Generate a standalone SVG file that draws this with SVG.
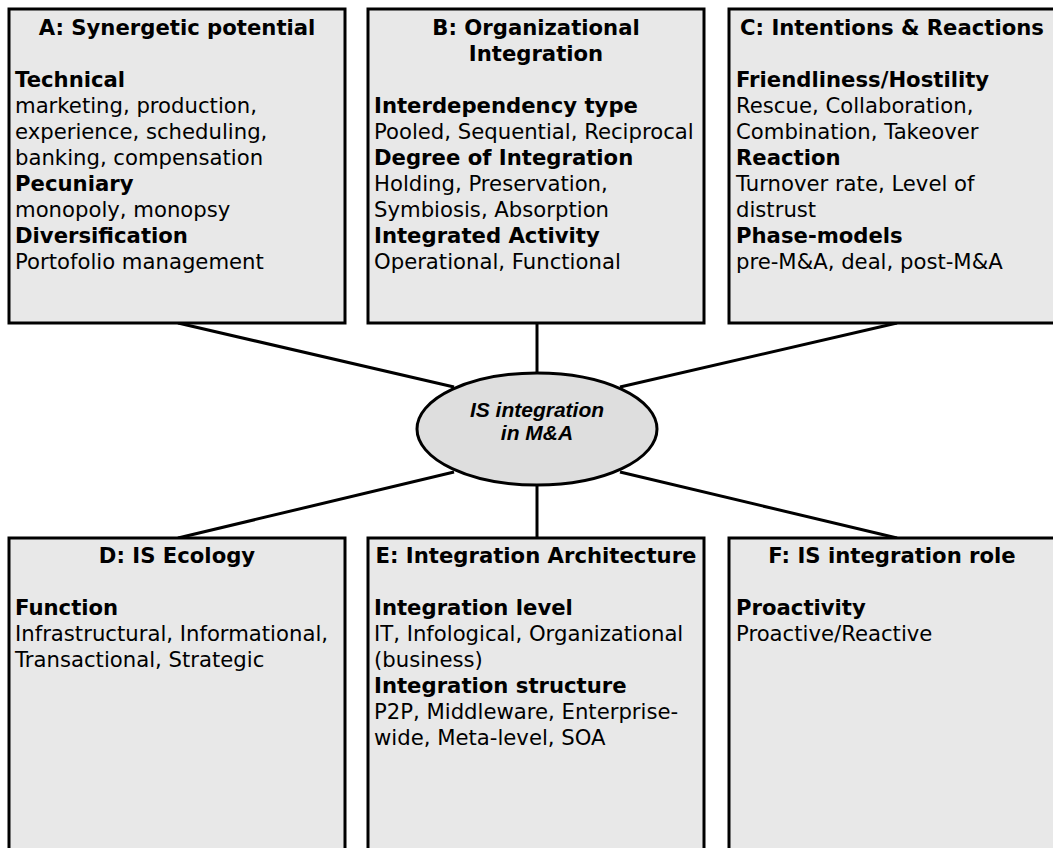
<svg xmlns="http://www.w3.org/2000/svg" width="1053" height="848" viewBox="0 0 1053 848">
<style>
.box{fill:#e8e8e8;stroke:#000;stroke-width:3}
.t{font-family:"DejaVu Sans",Verdana,sans-serif;font-size:21.2px;fill:#000}
.b{font-weight:bold}
.c{text-anchor:middle}
.conn line{stroke:#000;stroke-width:3}
.el{fill:#dedede;stroke:#000;stroke-width:3}
.et{font-family:"Liberation Sans",Arial,sans-serif;font-size:21px;font-weight:bold;font-style:italic;text-anchor:middle}
</style>
<rect width="1053" height="848" fill="#fff"/>
<g id="connectors" class="conn">
<line x1="178" y1="323" x2="454" y2="387"/>
<line x1="537" y1="323" x2="537" y2="374"/>
<line x1="897" y1="323" x2="620" y2="387"/>
<line x1="178" y1="538" x2="454" y2="472"/>
<line x1="537" y1="538" x2="537" y2="484"/>
<line x1="897" y1="538" x2="620" y2="472"/>
</g>
<g id="nodeA">
<rect class="box" x="9" y="9" width="336" height="314"/>
<text class="t b c" x="177" y="35">A: Synergetic potential</text>
<text class="t b" x="15" y="87">Technical</text>
<text class="t" x="15" y="113">marketing, production,</text>
<text class="t" x="15" y="139">experience, scheduling,</text>
<text class="t" x="15" y="165">banking, compensation</text>
<text class="t b" x="15" y="191">Pecuniary</text>
<text class="t" x="15" y="217">monopoly, monopsy</text>
<text class="t b" x="15" y="243">Diversification</text>
<text class="t" x="15" y="269">Portofolio management</text>
</g>
<g id="nodeB">
<rect class="box" x="368" y="9" width="336" height="314"/>
<text class="t b c" x="536" y="35">B: Organizational</text>
<text class="t b c" x="536" y="61">Integration</text>
<text class="t b" x="374" y="113">Interdependency type</text>
<text class="t" x="374" y="139">Pooled, Sequential, Reciprocal</text>
<text class="t b" x="374" y="165">Degree of Integration</text>
<text class="t" x="374" y="191">Holding, Preservation,</text>
<text class="t" x="374" y="217">Symbiosis, Absorption</text>
<text class="t b" x="374" y="243">Integrated Activity</text>
<text class="t" x="374" y="269">Operational, Functional</text>
</g>
<g id="nodeC">
<rect class="box" x="729" y="9" width="336" height="314"/>
<text class="t b c" x="892" y="35">C: Intentions &amp; Reactions</text>
<text class="t b" x="736" y="87">Friendliness/Hostility</text>
<text class="t" x="736" y="113">Rescue, Collaboration,</text>
<text class="t" x="736" y="139">Combination, Takeover</text>
<text class="t b" x="736" y="165">Reaction</text>
<text class="t" x="736" y="191">Turnover rate, Level of</text>
<text class="t" x="736" y="217">distrust</text>
<text class="t b" x="736" y="243">Phase-models</text>
<text class="t" x="736" y="269">pre-M&amp;A, deal, post-M&amp;A</text>
</g>
<g id="center">
<ellipse class="el" cx="537" cy="429" rx="120" ry="56"/>
<text class="et" x="537" y="417">IS integration</text>
<text class="et" x="537" y="440">in M&amp;A</text>
</g>
<g id="nodeD">
<rect class="box" x="9" y="538" width="336" height="320"/>
<text class="t b c" x="177" y="563">D: IS Ecology</text>
<text class="t b" x="15" y="615">Function</text>
<text class="t" x="15" y="641">Infrastructural, Informational,</text>
<text class="t" x="15" y="667">Transactional, Strategic</text>
</g>
<g id="nodeE">
<rect class="box" x="368" y="538" width="336" height="320"/>
<text class="t b c" x="536" y="563">E: Integration Architecture</text>
<text class="t b" x="374" y="615">Integration level</text>
<text class="t" x="374" y="641">IT, Infological, Organizational</text>
<text class="t" x="374" y="667">(business)</text>
<text class="t b" x="374" y="693">Integration structure</text>
<text class="t" x="374" y="719">P2P, Middleware, Enterprise-</text>
<text class="t" x="374" y="745">wide, Meta-level, SOA</text>
</g>
<g id="nodeF">
<rect class="box" x="729" y="538" width="336" height="320"/>
<text class="t b c" x="892" y="563">F: IS integration role</text>
<text class="t b" x="736" y="615">Proactivity</text>
<text class="t" x="736" y="641">Proactive/Reactive</text>
</g>
</svg>
